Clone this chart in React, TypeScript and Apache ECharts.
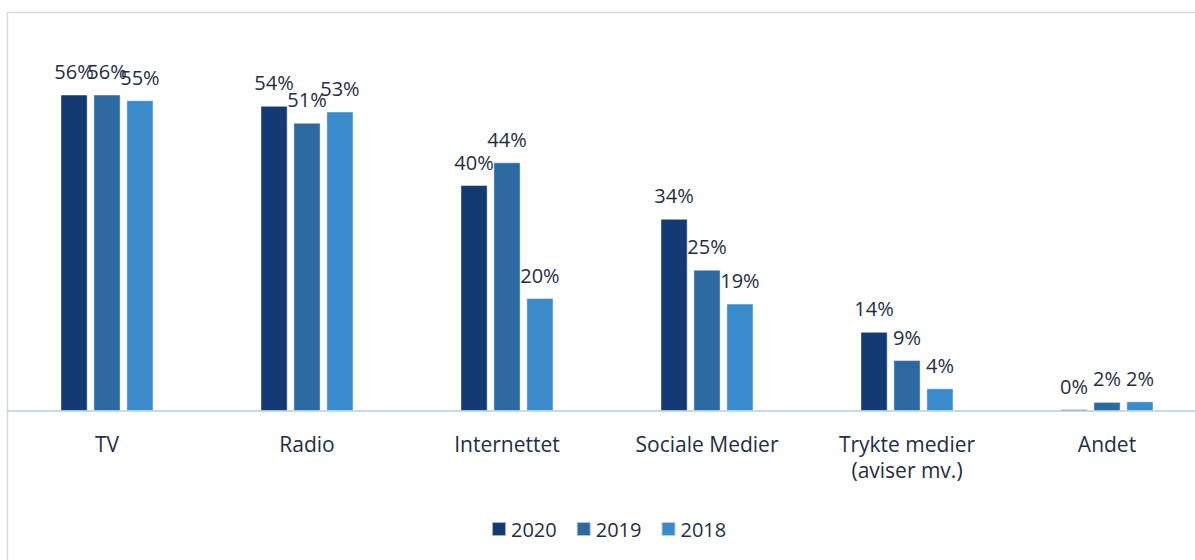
import React, { useEffect, useRef } from "react";
import * as echarts from "echarts";

const categories = ["TV", "Radio", "Internettet", "Sociale Medier", "Trykte medier\n(aviser mv.)", "Andet"];
const seriesNames = ["2020", "2019", "2018"];
const values2020 = [56, 54, 40, 34, 14, 0.3];
const values2019 = [56, 51, 44, 25, 9, 1.6];
const values2018 = [55, 53, 20, 19, 4, 1.7];
const colors = ["#143A74", "#2C69A0", "#3A8BCC"];

const FONT = "'Open Sans', 'Liberation Sans', sans-serif";
const TEXT = "#1E2E44";

export default function App() {
  const ref = useRef<HTMLDivElement>(null);
  useEffect(() => {
    if (!ref.current) return;
    const chart = echarts.init(ref.current, undefined, { renderer: "svg" });
    const data = [values2020, values2019, values2018];
    chart.setOption({
      animation: false,
      backgroundColor: "#ffffff",
      textStyle: { fontFamily: FONT },
      graphic: [
        {
          type: "rect",
          z: -1,
          shape: { x: 7.5, y: 12.5, width: 1200, height: 560 },
          style: { fill: "none", stroke: "#D9D9D9", lineWidth: 1.5 },
        },
      ],
      grid: { left: 7, right: 0, top: 72, bottom: 149 },
      legend: {
        left: 491,
        top: 519,
        padding: 0,
        itemWidth: 14,
        itemHeight: 14,
        itemGap: 19,
        icon: "rect",
        textStyle: { fontFamily: FONT, fontSize: 20, color: TEXT },
        data: seriesNames,
      },
      xAxis: {
        type: "category",
        data: categories,
        axisLine: { lineStyle: { color: "#C5DAEE", width: 2 } },
        axisTick: { show: false },
        axisLabel: {
          fontFamily: FONT,
          fontSize: 21,
          color: TEXT,
          margin: 20,
          lineHeight: 26,
          interval: 0,
        },
      },
      yAxis: {
        type: "value",
        min: 0,
        max: 60,
        show: false,
        splitLine: { show: false },
      },
      series: seriesNames.map((name, i) => ({
        name,
        type: "bar",
        data: data[i],
        barWidth: 27,
        barGap: "22%",
        itemStyle: { color: colors[i], borderColor: "rgba(255,255,255,0.6)", borderWidth: 0.8 },
        label: {
          show: true,
          position: "top",
          distance: 13,
          fontFamily: FONT,
          fontSize: 20,
          color: TEXT,
          formatter: (p: any) => Math.round(p.value) + "%",
        },
      })),
    });
    return () => chart.dispose();
  }, []);
  return (
    <div style={{ position: "fixed", left: 0, top: 0, width: 1195, height: 560, overflow: "hidden", background: "#fff" }}>
      <div ref={ref} style={{ width: 1207, height: 560 }} />
    </div>
  );
}
